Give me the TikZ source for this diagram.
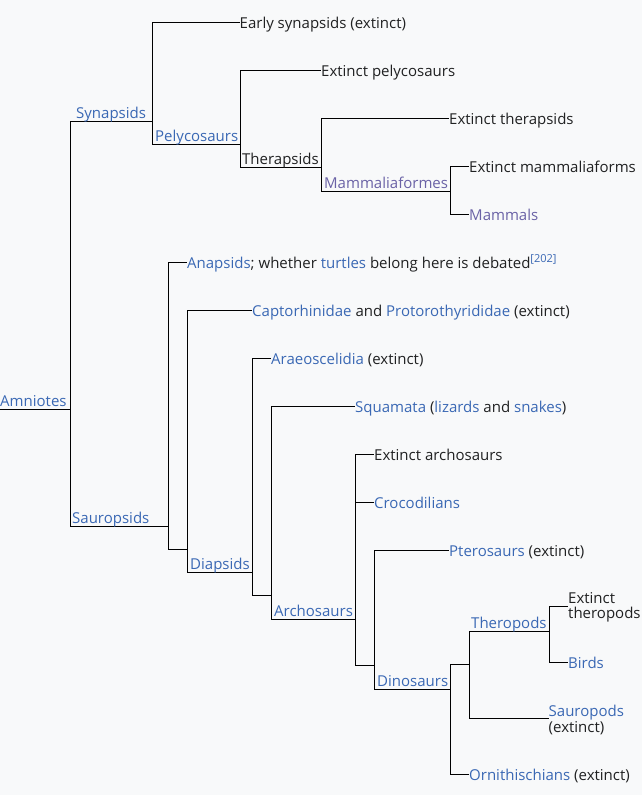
\documentclass[tikz,border=0pt]{standalone}
\usepackage{fontspec}
\setmainfont{Open Sans}
\definecolor{bgc}{HTML}{F8F9FA}
\definecolor{tblack}{HTML}{202122}
\definecolor{lblue}{HTML}{3A68B4}
\definecolor{lvis}{HTML}{6A62A6}
\newcommand\lk[1]{\textcolor{lblue}{#1}}
\newcommand\lv[1]{\textcolor{lvis}{#1}}
\newcommand\mainfs{\fontsize{15}{15.6}\selectfont}
\newcommand\reffs{\fontsize{11}{12}\selectfont}
\newcommand\twoline[2]{\vtop{\baselineskip=15.6pt\hbox{#1}\hbox{#2}}}
\begin{document}
\begin{tikzpicture}[x=1pt,y=-1pt,
  br/.style={draw=black,line width=1pt},
  leaf/.style={anchor=base west,inner sep=0pt,font=\mainfs,text=tblack},
  clade/.style={anchor=base west,inner sep=0pt,font=\mainfs,text=lblue}]
\useasboundingbox (0,0) rectangle (642,795);
\fill[bgc] (0,0) rectangle (642,795);

% junction coordinates (vertical x, line y)
\coordinate (am0) at (0,409);
\coordinate (Jam) at (70,409);
\coordinate (Jsyn) at (152,121);
\coordinate (Jpel) at (240,144);
\coordinate (Jthe) at (321,167);
\coordinate (Jmf) at (450,191);
\coordinate (Jsau) at (168,526);
\coordinate (Jx1) at (187,549);
\coordinate (Jdia) at (252,572);
\coordinate (Jx2) at (271,595);
\coordinate (Jarc) at (355,619);
\coordinate (Jx3) at (374,665);
\coordinate (Jdin) at (450,689);
\coordinate (Jx4) at (469,664);
\coordinate (Jthp) at (549,631);

% leaf line ends
\coordinate (Lesy) at (240,22);
\coordinate (Lepe) at (321,70);
\coordinate (Leth) at (449,118);
\coordinate (Lema) at (469,166);
\coordinate (Lmam) at (469,214);
\coordinate (Lana) at (187,262);
\coordinate (Lcap) at (252,310);
\coordinate (Lara) at (271,358);
\coordinate (Lsqu) at (355,406);
\coordinate (Lear) at (374,454);
\coordinate (Lcro) at (374,502);
\coordinate (Lpte) at (449,550);
\coordinate (Letp) at (568,606);
\coordinate (Lbir) at (568,662);
\coordinate (Lsap) at (549,718);
\coordinate (Lorn) at (469,774);

% branches
\draw[br] (am0) -- (Jam);
\draw[br] (Jam) |- (Jsyn);
\draw[br] (Jam) |- (Jsau);
\draw[br] (Jsyn) |- (Lesy);
\draw[br] (Jsyn) |- (Jpel);
\draw[br] (Jpel) |- (Lepe);
\draw[br] (Jpel) |- (Jthe);
\draw[br] (Jthe) |- (Leth);
\draw[br] (Jthe) |- (Jmf);
\draw[br] (Jmf) |- (Lema);
\draw[br] (Jmf) |- (Lmam);
\draw[br] (Jsau) |- (Lana);
\draw[br] (Jsau) |- (Jx1);
\draw[br] (Jx1) |- (Lcap);
\draw[br] (Jx1) |- (Jdia);
\draw[br] (Jdia) |- (Lara);
\draw[br] (Jdia) |- (Jx2);
\draw[br] (Jx2) |- (Lsqu);
\draw[br] (Jx2) |- (Jarc);
\draw[br] (Jarc) |- (Lear);
\draw[br] (Jarc) |- (Lcro);
\draw[br] (Jarc) |- (Jx3);
\draw[br] (Jx3) |- (Lpte);
\draw[br] (Jx3) |- (Jdin);
\draw[br] (Jdin) |- (Jx4);
\draw[br] (Jdin) |- (Lorn);
\draw[br] (Jx4) |- (Jthp);
\draw[br] (Jx4) |- (Lsap);
\draw[br] (Jthp) |- (Letp);
\draw[br] (Jthp) |- (Lbir);

% clade labels
\node[clade] (tam) at (0,406.5) {Amniotes};
\node[clade] (tsyn) at (76,118.5) {Synapsids};
\node[clade] (tpel) at (155,141.5) {Pelycosaurs};
\node[clade,text=tblack] (tthe) at (242,164.5) {Therapsids};
\node[clade,text=lvis] (tmf) at (324,188.5) {Mammaliaformes};
\node[clade] (tsau) at (72,523.5) {Sauropsids};
\node[clade] (tdia) at (190,569.5) {Diapsids};
\node[clade] (tarc) at (274,616.5) {Archosaurs};
\node[clade] (tdin) at (377,686.5) {Dinosaurs};
\node[clade] (tthp) at (471,628.5) {Theropods};

% leaf labels
\node[leaf] (nesy) at (239.5,28.5) {Early synapsids (extinct)};
\node[leaf] (nepe) at (321,76.5) {Extinct pelycosaurs};
\node[leaf] (neth) at (449,124.5) {Extinct therapsids};
\node[leaf] (nema) at (469,172.5) {Extinct mammaliaforms};
\node[leaf,text=lvis] (nmam) at (469,220.5) {Mammals};
\node[leaf] (nana) at (187,268.5) {\lk{Anapsids}; whether \lk{turtles} belong here is debated\raisebox{6.5pt}{\reffs\lk{[202]}}};
\node[leaf] (ncap) at (252,316.5) {\lk{Captorhinidae} and \lk{Protorothyrididae} (extinct)};
\node[leaf] (nara) at (271,364.5) {\lk{Araeoscelidia} (extinct)};
\node[leaf] (nsqu) at (355,412.5) {\lk{Squamata} (\lk{lizards} and \lk{snakes})};
\node[leaf] (near) at (374,460.5) {Extinct archosaurs};
\node[leaf,text=lblue] (ncro) at (374,508.5) {Crocodilians};
\node[leaf] (npte) at (449,556.5) {\lk{Pterosaurs} (extinct)};
\node[leaf] (netp) at (568,603.3) {\twoline{Extinct}{theropods}};
\node[leaf,text=lblue] (nbir) at (568,668.5) {Birds};
\node[leaf] (nsap) at (548.5,716.5) {\twoline{\lk{Sauropods}}{(extinct)}};
\node[leaf] (norn) at (469,780.5) {\lk{Ornithischians} (extinct)};
\end{tikzpicture}
\end{document}
